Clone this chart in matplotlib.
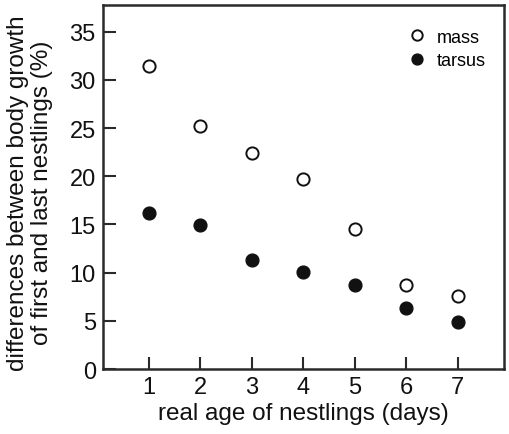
import matplotlib
matplotlib.use("Agg")
import matplotlib.pyplot as plt

plt.rcParams['font.family'] = ['Liberation Sans', 'DejaVu Sans']

days = [1, 2, 3, 4, 5, 6, 7]
mass = [31.4, 25.2, 22.4, 19.7, 14.5, 8.7, 7.6]
tarsus = [16.2, 14.9, 11.3, 10.1, 8.7, 6.35, 4.85]
yticks = [0, 5, 10, 15, 20, 25, 30, 35]

fig = plt.figure(figsize=(5.1, 4.35), dpi=100)
ax = fig.add_axes([0.2014, 0.1494, 0.7866, 0.8376])
col = '#2a2a2a'
ax.plot(days, mass, 'o', ms=8.8, mfc='white', mec='#111111', mew=1.4, ls='none', label='mass')
ax.plot(days, tarsus, 'o', ms=9.2, mfc='#111111', mec='#111111', mew=1.0, ls='none', label='tarsus')
ax.set_xlim(0.1, 7.9)
ax.set_ylim(0, 37.8)
ax.set_xticks(days)
ax.set_yticks(yticks)
ax.tick_params(direction='in', length=9, width=1.5, color=col, labelsize=17, pad=5, labelcolor='#111111')
for s in ax.spines.values():
    s.set_color(col)
    s.set_linewidth(1.8)
ax.set_xlabel('real age of nestlings (days)', fontsize=17.5, color='#111111', labelpad=3)
ax.set_ylabel('differences between body growth\nof first and last nestlings (%)', fontsize=17.5,
              color='#111111', linespacing=1.12)
ax.yaxis.set_label_coords(-0.124, 0.485)
leg = ax.legend(loc='upper right', frameon=False, fontsize=13, handletextpad=0.6,
                handlelength=1.0, labelspacing=0.35, borderaxespad=0.6, markerscale=0.85,
                bbox_to_anchor=(1.0, 0.984))
fig.savefig('out.png', dpi=100)
